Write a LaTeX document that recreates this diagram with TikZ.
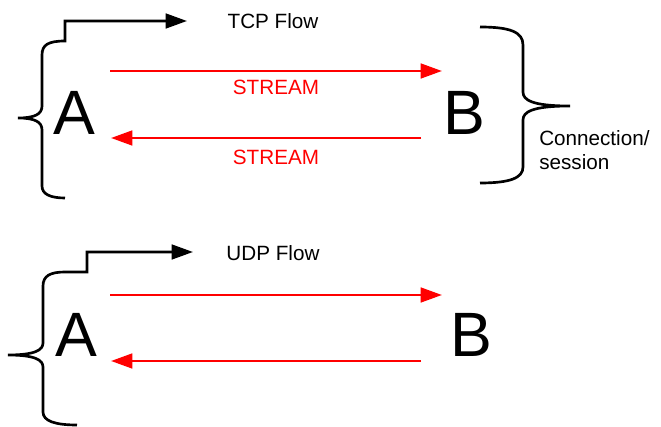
\documentclass[tikz,border=0pt]{standalone}
\usepackage{fontspec}
\setmainfont{Liberation Sans}
\usetikzlibrary{arrows.meta}

\begin{document}
\begin{tikzpicture}[x=0.75pt,y=0.75pt,yscale=-1,xscale=1,
  stream/.style={draw=red,line width=2pt,-{Triangle[length=16pt,width=11pt]}},
  brace/.style={draw=black,line width=2pt},
  flow/.style={brace,-{Triangle[length=16pt,width=11pt]}},
  host/.style={inner sep=0pt,font=\fontsize{47}{50}\selectfont},
  lbl/.style={inner sep=0.75pt,font=\fontsize{15.5}{18.5}\selectfont}]
\useasboundingbox (0,0) rectangle (661,427);

% Text Node
\node [host] (A1) at (74,113) {A};
\node [host] (B1) at (464,113) {B};
\node [host] (A2) at (76,335) {A};
\node [host] (B2) at (471,335) {B};
% Text Node
\node [lbl] (tcp) at (273,21) {TCP Flow};
\node [lbl] (udp) at (273,253) {UDP Flow};
\node [lbl,text=red] (s1) at (276,87) {STREAM};
\node [lbl,text=red] (s2) at (276,157) {STREAM};
\node [lbl,anchor=north west,align=left] (conn) at (538,129) {Connection/\\session};

%Straight Lines
\coordinate (t1a) at (110,71);  \coordinate (t1b) at (442,71);
\coordinate (t2a) at (421,138); \coordinate (t2b) at (111,138);
\coordinate (u1a) at (110,295); \coordinate (u1b) at (442,295);
\coordinate (u2a) at (421,361); \coordinate (u2b) at (111,361);
\draw [stream] (t1a) -- (t1b);
\draw [stream] (t2a) -- (t2b);
\draw [stream] (u1a) -- (u1b);
\draw [stream] (u2a) -- (u2b);

%Shape: Brace with flow step (TCP)
\coordinate (tcpend) at (187,21);
\draw [flow] (65,198) .. controls (50,198) and (42,194) .. (42,186) -- (42,130) .. controls (42,122) and (35,118) .. (18,118) .. controls (35,118) and (42,114) .. (42,106) -- (42,55) .. controls (42,45) and (48,41) .. (65,41) -- (65,21) -- (tcpend);
%Shape: Brace (connection)
\draw [brace] (480,27) .. controls (510,27) and (523,32) .. (523,45) -- (523,92) .. controls (523,100) and (532,106) .. (570,106) .. controls (532,106) and (523,112) .. (523,120) -- (523,167) .. controls (523,178) and (510,183) .. (480,183);
%Shape: Brace with flow step (UDP)
\coordinate (udpend) at (193,252);
\draw [flow] (77,425) .. controls (55,425) and (43,421) .. (43,412) -- (43,367) .. controls (43,360) and (35,355) .. (8,355) .. controls (35,355) and (43,350) .. (43,343) -- (43,286) .. controls (43,276) and (50,272) .. (65,272) -- (87,272) -- (87,252) -- (udpend);

\end{tikzpicture}
\end{document}
